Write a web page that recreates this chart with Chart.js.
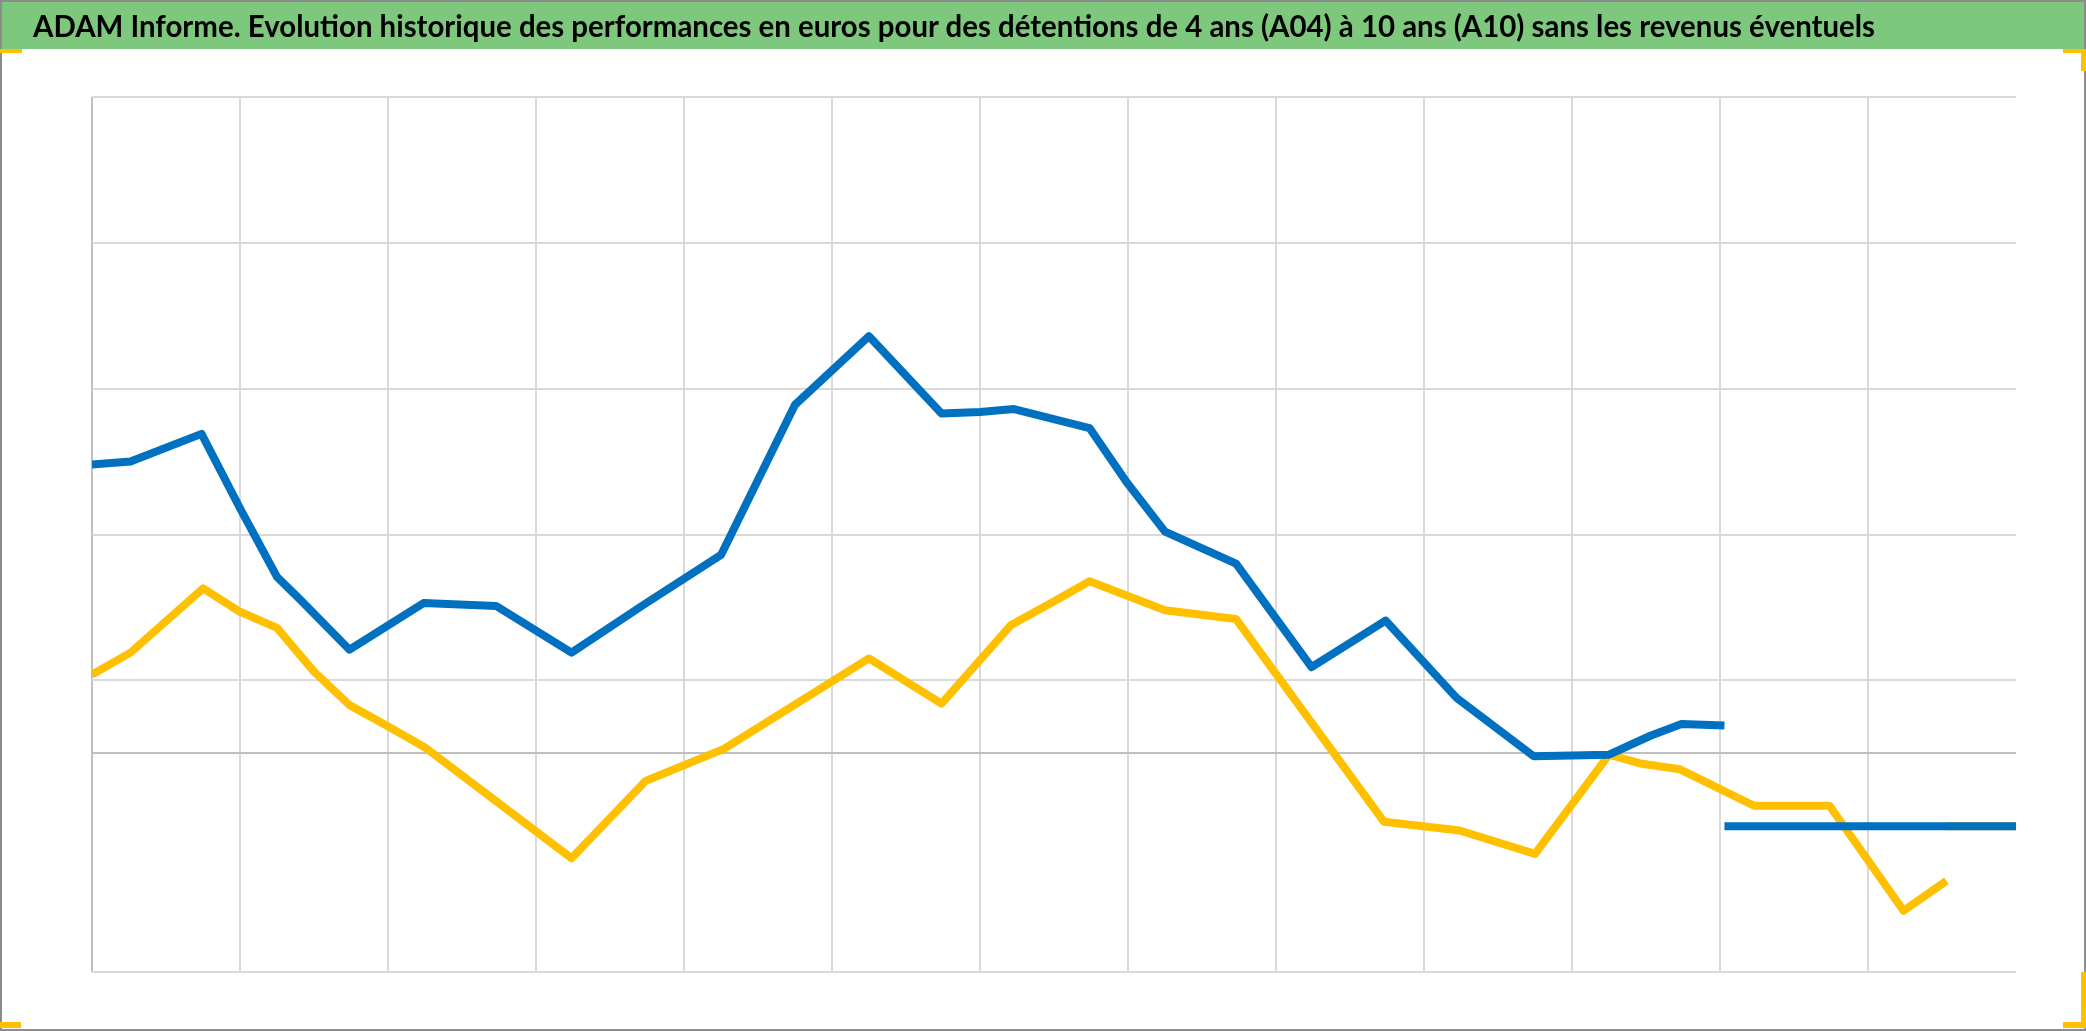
<!DOCTYPE html>
<html lang="fr">
<head>
<meta charset="utf-8">
<title>ADAM Informe</title>
<script src="https://cdn.jsdelivr.net/npm/chart.js@4.4.1/dist/chart.umd.min.js"></script>
<style>
  html, body { margin: 0; padding: 0; background: #ffffff; }
  #page { position: relative; width: 2086px; height: 1031px; overflow: hidden; }
  #chart { position: absolute; left: 0; top: 0; }
  #header {
    position: absolute; left: 0; top: 0; width: 2086px; height: 49px;
    background: #7dc87d;
  }
  #title {
    position: absolute; left: 33px; top: 0; display: block;
    line-height: 50px; white-space: nowrap;
    font-family: Lato, "Open Sans", sans-serif; font-weight: bold; font-size: 30px;
    color: #000000; transform-origin: left center;
  }
  #frame {
    position: absolute; left: 0; top: 0; width: 2086px; height: 1031px;
    box-sizing: border-box; border: 2px solid #8c8c8c; pointer-events: none;
  }
  .handle { position: absolute; background: #ffc000; }
</style>
</head>
<body>
<div id="page">
  <canvas id="chart" width="2086" height="1031"></canvas>
  <div id="header"><span id="title">ADAM Informe. Evolution historique des performances en euros pour des détentions de 4 ans (A04) à 10 ans (A10) sans les revenus éventuels</span></div>
  <div id="frame"></div>
  <!-- selection handles in the corners -->
  <div class="handle" style="left:0;top:49px;width:22px;height:4px"></div>
  <div class="handle" style="left:2063px;top:49px;width:23px;height:4px"></div>
  <div class="handle" style="left:2081px;top:49px;width:5px;height:22px"></div>
  <div class="handle" style="left:2081px;top:972px;width:5px;height:56px"></div>
  <div class="handle" style="left:2063px;top:1022px;width:23px;height:6px"></div>
  <div class="handle" style="left:0;top:1022px;width:21px;height:6px"></div>
</div>

<script>
// x positions are in grid intervals (0..13)
const a04X = [0, 0.26, 0.74, 1.0, 1.25, 1.41, 1.74, 2.24, 2.73, 3.24, 3.73, 4.25, 4.75, 5.25, 5.74, 6.0, 6.23, 6.74, 6.99, 7.25, 7.73, 8.24, 8.74, 9.22, 9.74, 10.25, 10.53, 10.74, 11.03];
const a04Y = [19.8, 20.0, 21.9, 16.8, 12.1, 10.5, 7.1, 10.3, 10.1, 6.9, 10.2, 13.6, 23.9, 28.6, 23.3, 23.4, 23.6, 22.3, 18.6, 15.2, 13.0, 5.9, 9.1, 3.8, -0.2, -0.1, 1.2, 2.0, 1.9];
const a04TailX = [11.03, 13];
const a04TailY = [-5, -5];

const a10X = [0, 0.26, 0.75, 1.0, 1.25, 1.5, 1.74, 1.99, 2.25, 3.24, 3.74, 4.27, 5.25, 5.74, 6.21, 6.48, 6.74, 7.25, 7.73, 8.73, 9.24, 9.75, 10.25, 10.46, 10.73, 11.23, 11.74, 12.24, 12.53];
const a10Y = [5.4, 6.9, 11.3, 9.7, 8.6, 5.6, 3.3, 1.9, 0.4, -7.2, -1.9, 0.3, 6.5, 3.4, 8.8, 10.3, 11.8, 9.8, 9.2, -4.7, -5.3, -6.9, -0.1, -0.7, -1.1, -3.6, -3.6, -10.8, -8.75];
const a10TailX = [12.53, 13];
const a10TailY = [-5, -5];

const xTicks = [0, 1, 2, 3, 4, 5, 6, 7, 8, 9, 10, 11, 12, 13];
const yTicks = [-15, -5, 0, 5, 15, 25, 35, 45];

// fit the title to the width it has in the reference
const title = document.getElementById('title');
const titleWidth = title.getBoundingClientRect().width;
title.style.transform = 'scaleX(' + (1842 / titleWidth) + ')';

function buildSeries(xs, ys, tailX, tailY) {
    const pts = xs.map((x, i) => ({ x: x, y: ys[i] }));
    pts.push({ x: tailX[0], y: null });
    tailX.forEach((x, i) => pts.push({ x: x, y: tailY[i] }));
    return pts;
}

const ctx = document.getElementById('chart').getContext('2d');
const chart = new Chart(ctx, {
    type: 'line',
    data: {
        datasets: [{
            label: 'A04',
            data: buildSeries(a04X, a04Y, a04TailX, a04TailY),
            borderColor: '#0070c0',
            borderWidth: 8,
            borderJoinStyle: 'round',
            pointRadius: 0,
            tension: 0,
            spanGaps: false,
            order: 0
        }, {
            label: 'A10',
            data: buildSeries(a10X, a10Y, a10TailX, a10TailY),
            borderColor: '#ffc000',
            borderWidth: 8,
            borderJoinStyle: 'round',
            pointRadius: 0,
            tension: 0,
            spanGaps: false,
            order: 1
        }]
    },
    options: {
        responsive: false,
        animation: false,
        devicePixelRatio: 1,
        layout: {
            autoPadding: false,
            padding: { left: 92, top: 97, right: 70, bottom: 59 }
        },
        plugins: {
            legend: { display: false },
            tooltip: { enabled: false }
        },
        scales: {
            x: {
                type: 'linear',
                min: 0,
                max: 13,
                afterBuildTicks: function (scale) {
                    scale.ticks = xTicks.map(v => ({ value: v }));
                },
                ticks: { display: false },
                border: { display: false },
                grid: {
                    drawTicks: false,
                    lineWidth: 2,
                    color: function (c) {
                        if (c.tick.value === 0) return '#bfbfbf';
                        if (c.tick.value === 13) return 'rgba(0,0,0,0)';
                        return '#d9d9d9';
                    }
                }
            },
            y: {
                type: 'linear',
                min: -15,
                max: 45,
                afterBuildTicks: function (scale) {
                    scale.ticks = yTicks.map(v => ({ value: v }));
                },
                ticks: { display: false },
                border: { display: false },
                grid: {
                    drawTicks: false,
                    lineWidth: 2,
                    color: function (c) {
                        if (c.tick.value === 0) return '#bfbfbf';
                        if (c.tick.value === -5) return 'rgba(0,0,0,0)';
                        return '#d9d9d9';
                    }
                }
            }
        }
    }
});
</script>
</body>
</html>
